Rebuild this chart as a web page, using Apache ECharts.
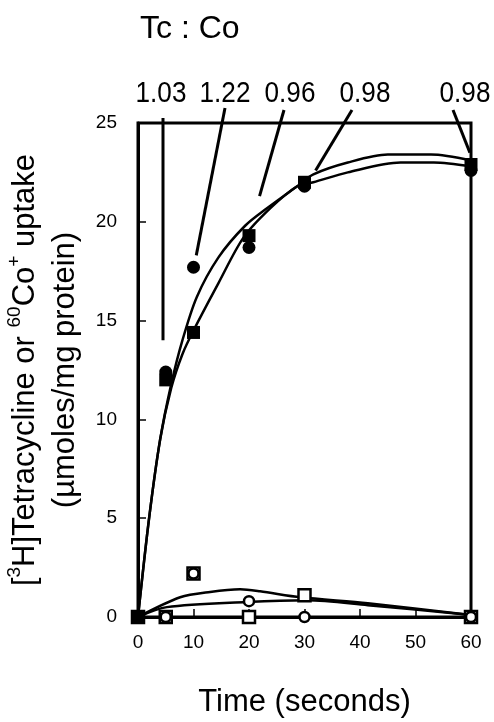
<!DOCTYPE html>
<html>
  <head>
    <title></title>
    <meta charset="UTF-8" />
    <script src="https://cdn.jsdelivr.net/npm/echarts@6/dist/echarts.min.js"></script>
  </head>
  <body style="margin:0;background:#fff">
    <div id="main"></div>
    <script>
      const width = 494;
      const height = 722;
      const main = document.getElementById('main');
      main.style.width = `${width}px`;
      main.style.height = `${height}px`;

      // time points (seconds)
      const xTicks = [0, 10, 20, 30, 40, 50, 60];
      const yTicks = [0, 5, 10, 15, 20, 25];

      // measured points [time, uptake]
      const tcFilled = [[0, 0], [5, 12.0], [10, 14.4], [20, 19.3], [30, 22.0], [60, 22.9]];
      const coFilled = [[0, 0], [5, 12.4], [10, 17.7], [20, 18.7], [30, 21.8], [60, 22.6]];
      const tcOpen = [[0, 0], [5, 0], [10, 2.2], [20, 0], [30, 1.1], [60, 0]];
      const coOpen = [[0, 0], [5, 0], [10, 2.2], [20, 0.8], [30, 0], [60, 0]];

      // hand-drawn fitted curves
      const curveUpper = [[0, 0], [2, 5], [4, 9], [6, 11.8], [8, 14], [10.6, 16.2], [14.5, 18.2], [19.3, 19.8],
        [23.3, 20.7], [28.7, 21.8], [31.6, 22.4], [37.8, 23.0], [45, 23.4], [52.8, 23.4], [60, 23.1]];
      const curveLower = [[0, 0], [2, 5], [4, 9], [6, 11.6], [8, 13.3], [10, 14.5], [14.5, 16.9], [19, 19.2],
        [23.9, 20.7], [28.7, 21.8], [31.6, 22.0], [37.8, 22.5], [47.3, 23.0], [53.3, 23.0], [60, 22.8]];
      const curveOpenA = [[0, 0], [7.6, 1.0], [13, 1.27], [18.4, 1.4], [22, 1.3], [29.3, 1.0], [41.4, 0.7], [60, 0.1]];
      const curveOpenB = [[0, 0], [5.2, 0.5], [19.6, 0.76], [30.5, 0.85], [41.4, 0.6], [60, 0.1]];

      // Tc : Co ratio annotations, and where each leader line ends (data coords)
      const ratioLabels = ['1.03', '1.22', '0.96', '0.98', '0.98'];
      const ratioTargets = [[4.5, 14.0], [10.5, 18.3], [21.9, 21.3], [32, 22.6], [59.8, 23.5]];

      const FONT = '"Liberation Sans", Arial, sans-serif';
      const myChart = echarts.init(main);

      const curve = (data) => ({
        type: 'line', data, smooth: 0.3, symbol: 'none', silent: true,
        lineStyle: { color: '#000', width: 2.5 }
      });

      const option = {
        animation: false,
        backgroundColor: '#fff',
        textStyle: { fontFamily: FONT },
        title: {
          text: 'Tc : Co',
          left: 135, top: 8,
          textStyle: { fontFamily: FONT, fontWeight: 'normal', fontSize: 32, color: '#000' }
        },
        grid: {
          left: 138, right: 23, top: 123, bottom: 105,
          outerBoundsMode: 'none', containLabel: false,
          show: true, borderColor: '#000', borderWidth: 3
        },
        xAxis: {
          type: 'value', min: 0, max: 60, interval: 10,
          name: 'Time (seconds)', nameLocation: 'middle', nameGap: 70,
          nameTextStyle: { fontSize: 31, color: '#000' },
          axisLine: { lineStyle: { color: '#000', width: 3 } },
          axisTick: { inside: true, length: 8, lineStyle: { color: '#000', width: 1.5 } },
          axisLabel: { color: '#000', fontSize: 19, margin: 16, formatter: v => xTicks.includes(v) ? v : '' },
          splitLine: { show: false }
        },
        yAxis: {
          type: 'value', min: 0, max: 25, interval: 5,
          name: '[{sup|3}H]Tetracycline or {sup|60}Co{sup|+} uptake\n(µmoles/mg protein)',
          nameLocation: 'middle', nameGap: 52, nameRotate: 90,
          nameTextStyle: {
            fontSize: 31, color: '#000', lineHeight: 40,
            rich: { sup: { fontSize: 19, lineHeight: 24, verticalAlign: 'top', color: '#000' } }
          },
          axisLine: { lineStyle: { color: '#000', width: 3 } },
          axisTick: { inside: true, length: 8, lineStyle: { color: '#000', width: 1.5 } },
          axisLabel: { color: '#000', fontSize: 19, margin: 21, formatter: v => yTicks.includes(v) ? v : '' },
          splitLine: { show: false }
        },
        series: [
          curve(curveUpper),
          curve(curveLower),
          curve(curveOpenA),
          curve(curveOpenB),
          {
            type: 'scatter', data: tcOpen, symbol: 'rect', symbolSize: 12,
            itemStyle: { color: '#fff', borderColor: '#000', borderWidth: 2.5, opacity: 1 }, z: 3
          },
          {
            type: 'scatter', data: coOpen, symbol: 'circle', symbolSize: 10,
            itemStyle: { color: '#fff', borderColor: '#000', borderWidth: 2.5, opacity: 1 }, z: 4
          },
          {
            type: 'scatter', data: coFilled, symbol: 'circle', symbolSize: 13,
            itemStyle: { color: '#000', opacity: 1 }, z: 5
          },
          {
            type: 'scatter', data: tcFilled, symbol: 'rect', symbolSize: 13,
            itemStyle: { color: '#000', opacity: 1 }, z: 5
          }
        ]
      };
      myChart.setOption(option);

      // ratio labels above the plot with leader lines down to the points
      const labelX = [161, 225, 290, 365, 465];
      const leaderStart = [[163, 118], [225, 108], [284, 110], [352, 110], [453, 110]];
      const graphics = [];
      ratioLabels.forEach((t, i) => {
        graphics.push({
          type: 'text', x: labelX[i], y: 94, scaleX: 0.9, z: 10,
          style: { text: t, font: `29px ${FONT}`, fill: '#000', align: 'center', verticalAlign: 'middle' }
        });
        const end = myChart.convertToPixel({ gridIndex: 0 }, ratioTargets[i]);
        graphics.push({
          type: 'line', z: 10,
          shape: { x1: leaderStart[i][0], y1: leaderStart[i][1], x2: end[0], y2: end[1] },
          style: { stroke: '#000', lineWidth: 3 }
        });
      });
      myChart.setOption({ graphic: graphics });
    </script>
  </body>
</html>
